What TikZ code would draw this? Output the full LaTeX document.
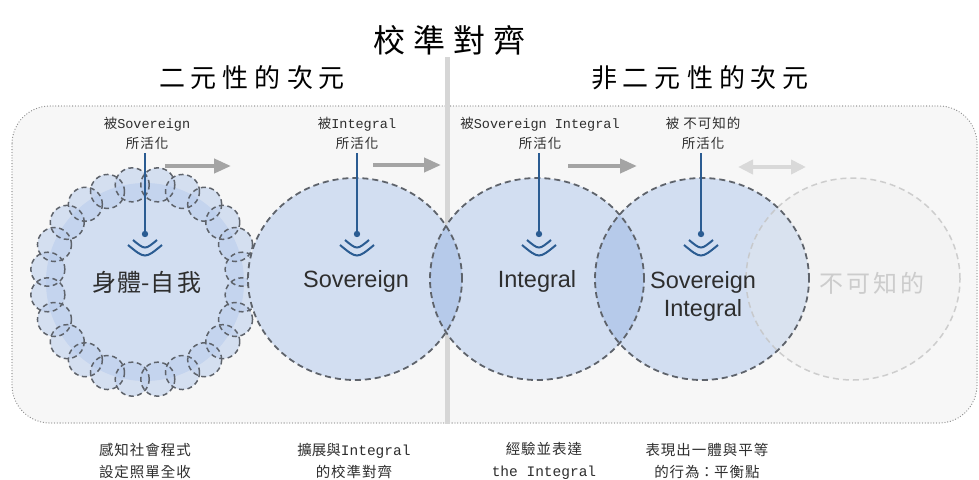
\documentclass[tikz,border=0pt]{standalone}
\usepackage{fontspec}
\setmainfont{Liberation Serif}
\newfontfamily\cj{Noto Sans CJK TC}
\newfontfamily\mono{Liberation Mono}
\newfontfamily\arial{Liberation Sans}
\usetikzlibrary{arrows.meta}
\definecolor{boxbg}{HTML}{F7F7F7}
\definecolor{cblue}{HTML}{D2DEF1}
\definecolor{lensblue}{HTML}{B6CAEA}
\definecolor{ringblue}{HTML}{B9CCEC}
\definecolor{edgecol}{HTML}{5E636B}
\definecolor{antcol}{HTML}{2B5C92}
\definecolor{arrcol}{HTML}{A4A4A4}
\definecolor{arrlight}{HTML}{D9D9D9}
\definecolor{ghostcol}{HTML}{ECECEC}
\definecolor{ghostedge}{HTML}{C4C4C4}
\definecolor{txtcol}{HTML}{2E2E2E}
\definecolor{divcol}{HTML}{D6D6D6}
\begin{document}
\begin{tikzpicture}[x=1pt,y=-1pt,
  dashedge/.style={draw=edgecol, line width=1.8pt, dash pattern=on 6pt off 4pt},
  ringedge/.style={draw=edgecol, line width=1.5pt, dash pattern=on 5pt off 3.5pt},
  ghostline/.style={draw=ghostedge, line width=1.5pt, dash pattern=on 6pt off 4pt},
  actlab/.style={align=center, text=txtcol, font=\mono\fontsize{13.5}{20}\selectfont, inner sep=0pt},
  botlab/.style={align=center, text=txtcol, font=\mono\fontsize{14.5}{22}\selectfont, inner sep=0pt},
  bigsans/.style={text=txtcol, font=\arial\fontsize{23.5}{28}\selectfont, align=center, inner sep=0pt},
  antline/.style={draw=antcol, line width=1.8pt},
  flowarrow/.style={draw=arrcol, line width=4pt, -{Triangle[length=17pt,width=14pt]}},
  flowboth/.style={draw=arrlight, line width=4pt, {Triangle[length=15pt,width=14pt]}-{Triangle[length=15pt,width=14pt]}},
  headtxt/.style={text=black, inner sep=0pt}
]
\useasboundingbox (0,0) rectangle (979,479);
\fill[white] (0,0) rectangle (979,479);

% outer dotted box
\draw[fill=boxbg, draw=black!45, line width=1.3pt, dash pattern=on 0pt off 2.8pt, line cap=round, rounded corners=38pt]
  (12,106) rectangle (977,423);

% divider line
\coordinate (divtop) at (447,57);
\coordinate (divbot) at (447,424);
\draw[divcol, line width=5pt] (divtop) -- (divbot);

% titles
\node[headtxt, font=\cj\fontsize{32}{36}\selectfont] (title) at (449,40) {校\hspace{8pt}準\hspace{8pt}對\hspace{8pt}齊};
\node[headtxt, font=\cj\fontsize{26}{30}\selectfont] (dual) at (252,78) {二\hspace{6pt}元\hspace{6pt}性\hspace{6pt}的\hspace{6pt}次\hspace{6pt}元};
\node[headtxt, font=\cj\fontsize{26}{30}\selectfont] (nondual) at (700,78) {非\hspace{6pt}二\hspace{6pt}元\hspace{6pt}性\hspace{6pt}的\hspace{6pt}次\hspace{6pt}元};

% body circle with ring of small circles
\fill[cblue] (145,282) circle[radius=99pt];
\foreach \i in {0,...,23} {
  \fill[ringblue, fill opacity=0.55] ({145+98*cos(\i*15+7.5)},{282+98*sin(\i*15+7.5)}) circle[radius=17pt];
}
\foreach \i in {0,...,23} {
  \draw[ringedge] ({145+98*cos(\i*15+7.5)},{282+98*sin(\i*15+7.5)}) circle[radius=17pt];
}

% main circles
\fill[cblue] (355,279) ellipse[x radius=107pt, y radius=101pt];
\fill[cblue] (537,279) ellipse[x radius=107pt, y radius=101pt];
\fill[cblue] (702,279) ellipse[x radius=107pt, y radius=101pt];
% lenses
\begin{scope}
  \clip (355,279) ellipse[x radius=107pt, y radius=101pt];
  \fill[lensblue] (537,279) ellipse[x radius=107pt, y radius=101pt];
\end{scope}
\begin{scope}
  \clip (537,279) ellipse[x radius=107pt, y radius=101pt];
  \fill[lensblue] (702,279) ellipse[x radius=107pt, y radius=101pt];
\end{scope}
% ghost circle
\fill[ghostcol, fill opacity=0.3] (853,279) ellipse[x radius=107pt, y radius=101pt];
\draw[ghostline, draw opacity=0.8] (853,279) ellipse[x radius=107pt, y radius=101pt];
% outlines
\draw[dashedge] (355,279) ellipse[x radius=107pt, y radius=101pt];
\draw[dashedge] (537,279) ellipse[x radius=107pt, y radius=101pt];
\draw[dashedge] (702,279) ellipse[x radius=107pt, y radius=101pt];

% circle texts
\node[headtxt, text=txtcol, font=\cj\fontsize{24}{28}\selectfont] (body) at (147,282) {身\hspace{1pt}體-自\hspace{3pt}我};
\node[bigsans] (sov) at (356,281) {Sovereign};
\node[bigsans] (int) at (537,281) {Integral};
\node[bigsans] (sovint) at (703,296) {Sovereign\\Integral};
\node[headtxt, text=black!20, font=\cj\fontsize{24}{28}\selectfont] (unk) at (872,283) {不\hspace{3pt}可\hspace{3pt}知\hspace{3pt}的};

% activation labels
\node[actlab] (a1) at (147,133) {{\cj 被}Sovereign\\{\cj 所\hspace{1pt}活\hspace{1pt}化}};
\node[actlab] (a2) at (357,133) {{\cj 被}Integral\\{\cj 所\hspace{1pt}活\hspace{1pt}化}};
\node[actlab] (a3) at (540,133) {{\cj 被}Sovereign Integral\\{\cj 所\hspace{1pt}活\hspace{1pt}化}};
\node[actlab] (a4) at (703,133) {{\cj 被\hspace{4pt}不\hspace{1pt}可\hspace{1pt}知\hspace{1pt}的}\\{\cj 所\hspace{1pt}活\hspace{1pt}化}};

% antennas
\foreach \n/\x in {1/145,2/357,3/539,4/701} {
  \coordinate (d\n) at (\x,234);
  \coordinate (t\n) at (\x,153);
  \draw[antline] (t\n) -- (d\n);
  \fill[antcol] (d\n) circle[radius=3.2pt];
  \draw[antcol, line width=2pt] ([shift={(-12,6)}]d\n) .. controls ([shift={(0,16)}]d\n) .. ([shift={(12,6)}]d\n);
  \draw[antcol, line width=2pt] ([shift={(-17,11)}]d\n) .. controls ([shift={(0,25)}]d\n) .. ([shift={(17,11)}]d\n);
}

% flow arrows
\coordinate (f1s) at (165,166); \coordinate (f1e) at (231,166);
\coordinate (f2s) at (373,165); \coordinate (f2e) at (441,165);
\coordinate (f3s) at (568,166); \coordinate (f3e) at (637,166);
\coordinate (f4s) at (738,167); \coordinate (f4e) at (806,167);
\draw[flowarrow] (f1s) -- (f1e);
\draw[flowarrow] (f2s) -- (f2e);
\draw[flowarrow] (f3s) -- (f3e);
\draw[flowboth] (f4s) -- (f4e);

% bottom labels
\node[botlab] (b1) at (145,461) {{\cj 感\hspace{1pt}知\hspace{1pt}社\hspace{1pt}會\hspace{1pt}程\hspace{1pt}式}\\{\cj 設\hspace{1pt}定\hspace{1pt}照\hspace{1pt}單\hspace{1pt}全\hspace{1pt}收}};
\node[botlab] (b2) at (354,461) {{\cj 擴展與}Integral\\{\cj 的\hspace{1pt}校\hspace{1pt}準\hspace{1pt}對\hspace{1pt}齊}};
\node[botlab] (b3) at (544,461) {{\cj 經\hspace{1pt}驗\hspace{1pt}並\hspace{1pt}表\hspace{1pt}達}\\the Integral};
\node[botlab] (b4) at (707,461) {{\cj 表\hspace{1pt}現\hspace{1pt}出\hspace{1pt}一\hspace{1pt}體\hspace{1pt}與\hspace{1pt}平\hspace{1pt}等}\\{\cj 的\hspace{1pt}行\hspace{1pt}為：平\hspace{1pt}衡\hspace{1pt}點}};
\end{tikzpicture}
\end{document}
